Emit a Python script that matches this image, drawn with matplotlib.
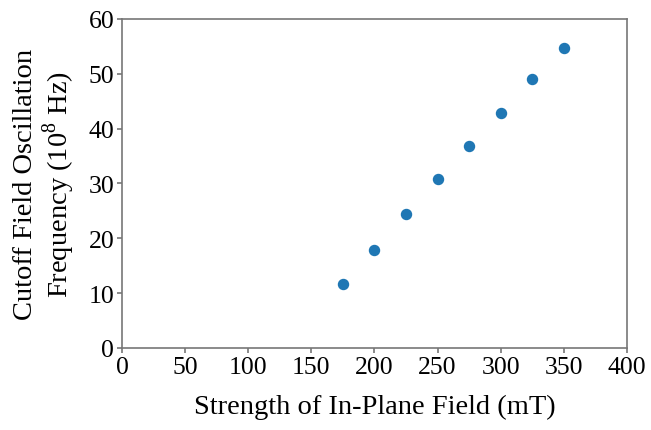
import matplotlib
matplotlib.use("Agg")
import matplotlib.pyplot as plt

field_mT = [175, 200, 225, 250, 275, 300, 325, 350]
freq_1e8Hz = [11.6, 17.9, 24.5, 30.8, 36.9, 42.9, 49.0, 54.8]

plt.rcParams["font.family"] = ["Liberation Serif", "DejaVu Serif"]
plt.rcParams["mathtext.fontset"] = "custom"
plt.rcParams["mathtext.rm"] = "Liberation Serif"

fig = plt.figure(figsize=(6.51, 4.31), dpi=100)
ax = fig.add_axes([0.1874, 0.1903, 0.7756, 0.7633])
ax.scatter(field_mT, freq_1e8Hz, s=52, color="#1f77b4", zorder=3)
ax.set_xlim(0, 400)
ax.set_ylim(0, 60)
ax.set_xticks(range(0, 401, 50))
ax.set_yticks(range(0, 61, 10))
for sp in ax.spines.values():
    sp.set_color("#777777")
    sp.set_linewidth(1.2)
ax.tick_params(colors="#777777", labelcolor="black", labelsize=18.5, length=3.5, width=1.2, pad=2)
ax.set_xlabel("Strength of In-Plane Field (mT)", fontsize=20.5, labelpad=12)
ax.set_ylabel("Cutoff Field Oscillation\nFrequency (10$^{\\mathrm{8}}$ Hz)", fontsize=20.5,
              labelpad=8, linespacing=1.1)
fig.savefig("out.png", dpi=100)
